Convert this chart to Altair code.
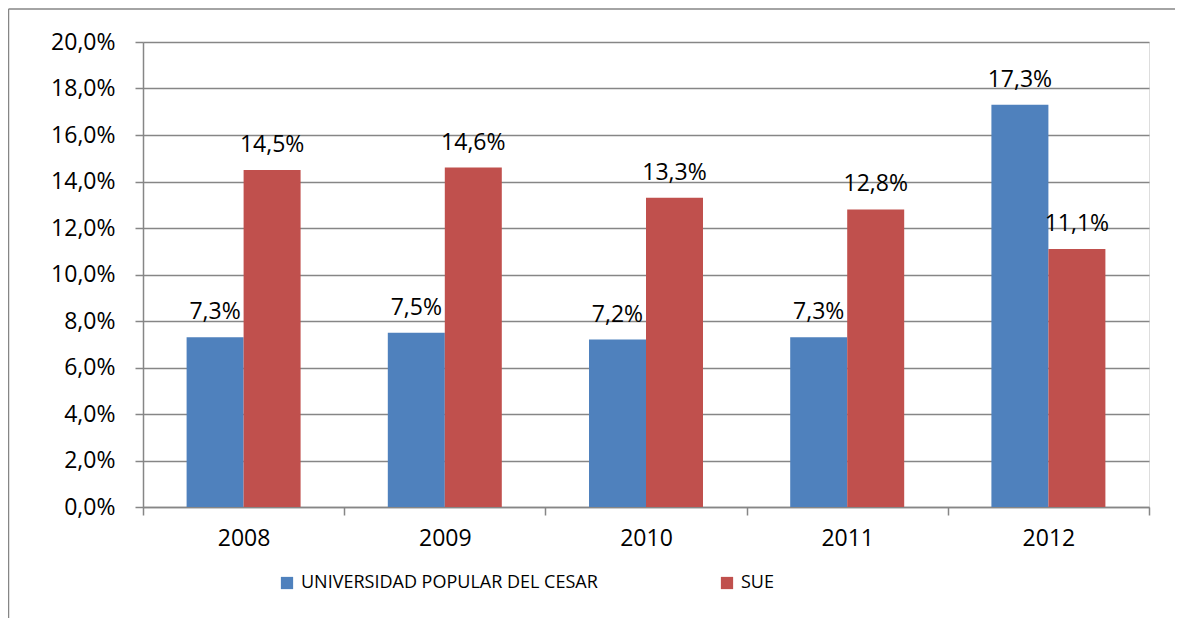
import altair as alt
import pandas as pd

years = ["2008", "2009", "2010", "2011", "2012"]
series_names = ["UNIVERSIDAD POPULAR DEL CESAR", "SUE"]
upc_values = [7.3, 7.5, 7.2, 7.3, 17.3]
sue_values = [14.5, 14.6, 13.3, 12.8, 11.1]
y_ticks = [0, 2, 4, 6, 8, 10, 12, 14, 16, 18, 20]
colors = ["#4F81BD", "#C0504D"]

rows = []
for y, a, b in zip(years, upc_values, sue_values):
    rows.append({"year": y, "serie": series_names[0], "value": a})
    rows.append({"year": y, "serie": series_names[1], "value": b})
df = pd.DataFrame(rows)

FONT = "Open Sans"
GRAY = "#868686"

x_enc = alt.X("year:N", sort=years, title=None,
              scale=alt.Scale(paddingInner=0, paddingOuter=0),
              axis=alt.Axis(tickBand="extent", labelAngle=0, labelFontSize=23,
                            labelFont=FONT, labelColor="#000000", labelPadding=12,
                            domainColor=GRAY, tickColor=GRAY, tickSize=8,
                            domainWidth=1.5, tickWidth=1.5))
xoff_scale = alt.Scale(paddingInner=0, paddingOuter=0.765)
y_enc = alt.Y("value:Q", title=None,
              scale=alt.Scale(domain=[0, 20], nice=False),
              axis=alt.Axis(values=y_ticks, labelFontSize=23, labelFont=FONT,
                            labelColor="#000000", labelPadding=20,
                            labelExpr="replace(format(datum.value, '.1f'), '.', ',') + '%'",
                            domainColor=GRAY, tickColor=GRAY, gridColor=GRAY,
                            tickSize=8, domainWidth=1.5, tickWidth=1.5, gridWidth=1.5))

base = alt.Chart(df)

bars = base.mark_bar().encode(
    x=x_enc,
    xOffset=alt.XOffset("serie:N", sort=series_names, scale=xoff_scale),
    y=y_enc,
    color=alt.Color("serie:N", sort=series_names, title=None,
                    scale=alt.Scale(domain=series_names, range=colors),
                    legend=alt.Legend(orient="none", legendX=135, legendY=532,
                                      direction="horizontal", columns=2,
                                      columnPadding=120, symbolType="square",
                                      symbolSize=150, symbolStrokeWidth=0,
                                      labelFont=FONT, labelFontSize=18,
                                      labelColor="#000000", labelOffset=5,
                                      labelLimit=600)),
)

labels = base.transform_calculate(
    label="replace(format(datum.value, '.1f'), '.', ',') + '%'"
).mark_text(font=FONT, fontSize=23, baseline="alphabetic", dy=-18, color="#000000").encode(
    x=alt.X("year:N", sort=years),
    xOffset=alt.XOffset("serie:N", sort=series_names),
    y=alt.Y("value:Q"),
    text="label:N",
)

one = alt.Data(values=[{"k": 1}])
border_top = alt.Chart(one).mark_rule(color=GRAY, strokeWidth=1.5).encode(
    x=alt.value(-134.5), x2=alt.value(1200), y=alt.value(-33))
border_left = alt.Chart(one).mark_rule(color=GRAY, strokeWidth=1.5).encode(
    x=alt.value(-134.5), y=alt.value(-33), y2=alt.value(700))

chart = alt.layer(bars, labels, border_top, border_left).properties(
    width=1006, height=465,
    autosize=alt.AutoSizeParams(type="none"),
    padding={"left": 135, "top": 34, "right": 26, "bottom": 111},
).configure_view(stroke=None).configure(background="#ffffff")

chart.save("out.html", embed_options={"renderer": "svg", "actions": False})
